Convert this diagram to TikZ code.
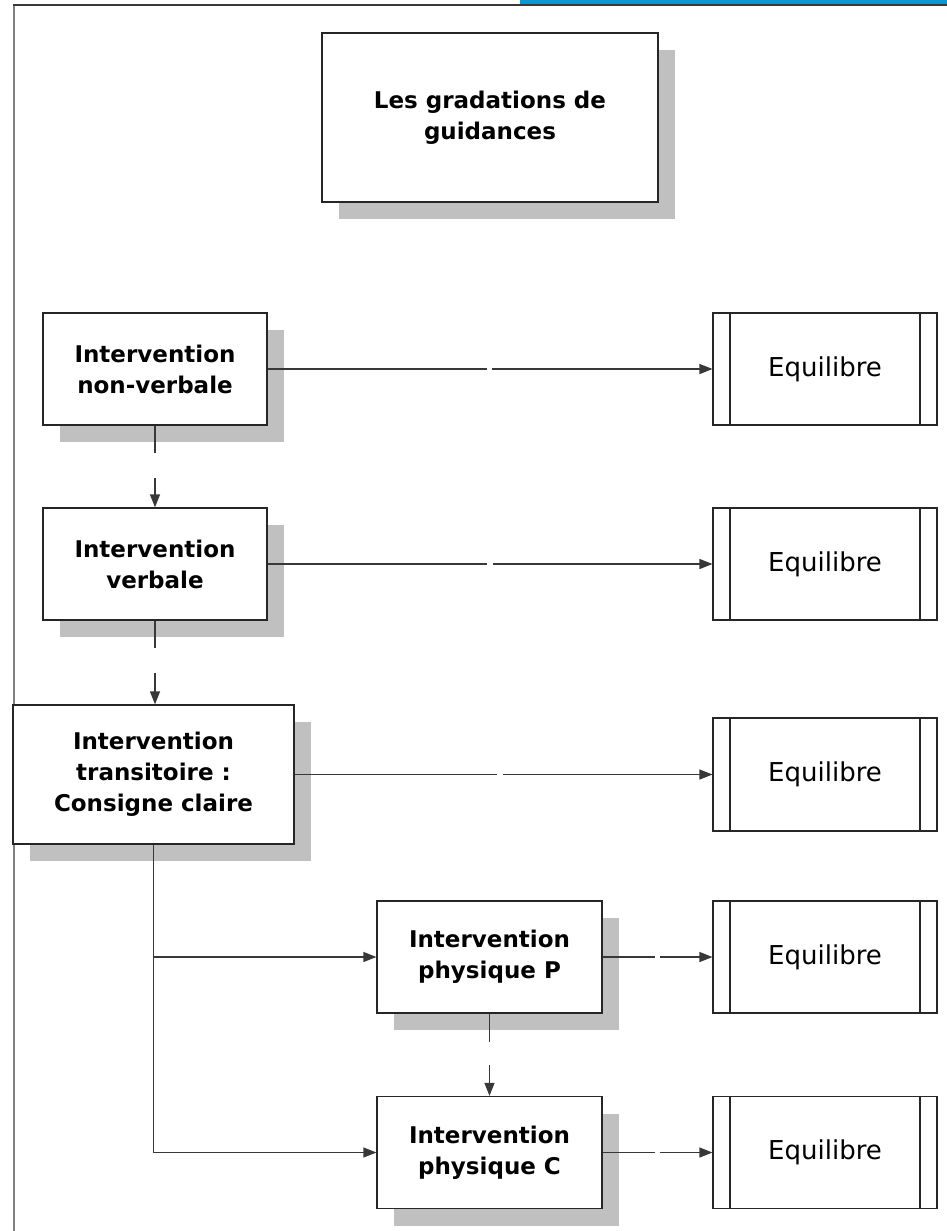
\documentclass[tikz,border=0pt]{standalone}
\usepackage{fontspec}
\setmainfont{DejaVu Sans}
\usetikzlibrary{arrows.meta,shadows}
\definecolor{shadowgray}{HTML}{C0C0C0}
\definecolor{linegray}{HTML}{383838}
\definecolor{framegray}{HTML}{808080}
\definecolor{barblue}{HTML}{0A96D0}
\tikzset{
  box/.style={draw=black!85, line width=1.2pt, fill=white, inner sep=0pt, align=center,
    font=\fontsize{23}{31}\selectfont\bfseries,
    drop shadow={shadow xshift=17pt, shadow yshift=-17pt, fill=shadowgray, opacity=1}},
  eqbox/.style={draw=black!85, line width=1.1pt, fill=white, inner sep=0pt,
    minimum width=224pt, minimum height=112pt, font=\fontsize{26}{31}\selectfont,
    path picture={
      \draw[line width=1.1pt, black!85] ([xshift=17pt]path picture bounding box.north west) -- ([xshift=17pt]path picture bounding box.south west);
      \draw[line width=1.1pt, black!85] ([xshift=-17pt]path picture bounding box.north east) -- ([xshift=-17pt]path picture bounding box.south east);
    }},
  conn/.style={draw=linegray, line width=1.2pt},
  arr/.style={-{Triangle[length=13pt,width=10pt]}}
}
\begin{document}
\begin{tikzpicture}[x=1pt,y=-1pt]
\useasboundingbox (0,0) rectangle (947,1231);
% page frame
\fill[barblue] (520,0) rectangle (947,3.6);
\draw[framegray, line width=2pt] (14,1231) -- (14,5);
\draw[linegray, line width=1.4pt] (13,5) -- (947,5);

% main boxes
\node[box, minimum width=336pt, minimum height=169pt] (title) at (490,117.5) {Les gradations de\\guidances};
\node[box, minimum width=224pt, minimum height=112pt] (b1) at (155,369) {Intervention\\non-verbale};
\node[box, minimum width=224pt, minimum height=112pt] (b2) at (155,564) {Intervention\\verbale};
\node[box, minimum width=281pt, minimum height=139pt] (b3) at (153.5,774.5) {Intervention\\transitoire :\\Consigne claire};
\node[box, minimum width=225pt, minimum height=112pt] (bP) at (489.5,957) {Intervention\\physique P};
\node[box, minimum width=225pt, minimum height=112pt] (bC) at (489.5,1152.5) {Intervention\\physique C};

% equilibre boxes
\node[eqbox] (e1) at (825,369) {Equilibre};
\node[eqbox] (e2) at (825,564) {Equilibre};
\node[eqbox, minimum height=113pt] (e3) at (825,774.5) {Equilibre};
\node[eqbox] (e4) at (825,957) {Equilibre};
\node[eqbox] (e5) at (825,1152.5) {Equilibre};

% gap coordinates
\coordinate (g1a) at (487,369);   \coordinate (g1b) at (492,369);
\coordinate (g2a) at (487,564);   \coordinate (g2b) at (493,564);
\coordinate (g3a) at (497,774.5); \coordinate (g3b) at (503,774.5);
\coordinate (g4a) at (655,957);   \coordinate (g4b) at (660,957);
\coordinate (g5a) at (655,1152.5);\coordinate (g5b) at (660,1152.5);
\coordinate (v1a) at (155,453);   \coordinate (v1b) at (155,478);
\coordinate (v2a) at (155,648);   \coordinate (v2b) at (155,673);
\coordinate (v3a) at (489.5,1042);\coordinate (v3b) at (489.5,1065);

% horizontal connectors to Equilibre
\draw[conn] (b1.east) -- (g1a); \draw[conn,arr] (g1b) -- (e1.west);
\draw[conn] (b2.east) -- (g2a); \draw[conn,arr] (g2b) -- (e2.west);
\draw[conn] (b3.east) -- (g3a); \draw[conn,arr] (g3b) -- (e3.west);
\draw[conn] (bP.east) -- (g4a); \draw[conn,arr] (g4b) -- (e4.west);
\draw[conn] (bC.east) -- (g5a); \draw[conn,arr] (g5b) -- (e5.west);

% vertical connectors
\draw[conn] (b1.south) -- (v1a); \draw[conn,arr] (v1b) -- (b2.north);
\draw[conn] (b2.south) -- (v2a); \draw[conn,arr] (v2b) -- (b3.north -| v2b);
\draw[conn] (bP.south) -- (v3a); \draw[conn,arr] (v3b) -- (bC.north);

% trunk from transitoire to physical interventions
\draw[conn,arr] (b3.south) |- (bC.west);
\draw[conn,arr] (b3.south |- bP.west) -- (bP.west);
\end{tikzpicture}
\end{document}
